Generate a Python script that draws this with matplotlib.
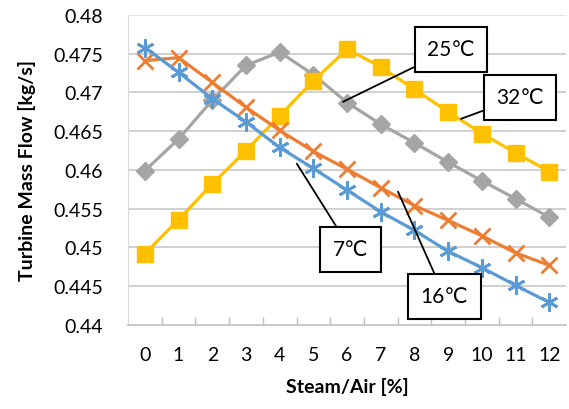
import matplotlib
matplotlib.use("Agg")
import matplotlib.pyplot as plt
from matplotlib.ticker import FixedLocator

plt.rcParams['font.family'] = ['Lato', 'DejaVu Sans']

steam_air = list(range(13))
flow_7c = [0.4758, 0.4726, 0.4692, 0.4662, 0.4629, 0.4602, 0.4574, 0.4546,
           0.4522, 0.4495, 0.4474, 0.4451, 0.4429]
flow_16c = [0.4741, 0.4745, 0.4713, 0.4681, 0.4651, 0.4624, 0.4601, 0.4577,
            0.4554, 0.4535, 0.4515, 0.4493, 0.4477]
flow_25c = [0.4599, 0.4640, 0.4690, 0.4735, 0.4752, 0.4723, 0.4687, 0.4659,
            0.4635, 0.4610, 0.4586, 0.4563, 0.4539]
flow_32c = [0.4492, 0.4536, 0.4582, 0.4625, 0.4670, 0.4715, 0.4756, 0.4733,
            0.4704, 0.4675, 0.4647, 0.4622, 0.4598]
y_ticks = [0.44, 0.445, 0.45, 0.455, 0.46, 0.465, 0.47, 0.475, 0.48]
y_tick_labels = ['0.44', '0.445', '0.45', '0.455', '0.46', '0.465', '0.47', '0.475', '0.48']

fig = plt.figure(figsize=(5.69, 4.10), dpi=100)
ax = fig.add_axes([0.225, 0.205, 0.77, 0.756])

for y in y_ticks[1:]:
    ax.axhline(y, color='#c8c8c8' if y < 0.48 else '#e2e2e2', lw=1.2, zorder=0)

ax.plot(steam_air, flow_25c, color='#a5a5a5', lw=2.3, marker='D', ms=9,
        mfc='#a5a5a5', mec='#a5a5a5', zorder=3)
ax.plot(steam_air, flow_32c, color='#ffc000', lw=2.3, marker='s', ms=12,
        mfc='#ffc000', mec='#ffc000', zorder=3)
ax.plot(steam_air, flow_16c, color='#ed7d31', lw=2.3, marker='x', ms=12,
        mew=2.0, zorder=4)
ax.plot(steam_air, flow_7c, color='#5b9bd5', lw=2.3, marker=(6, 2, 0), ms=13,
        mew=2.0, mec='#5b9bd5', zorder=5)

ax.set_xlim(-0.5, 12.5)
ax.set_ylim(0.44, 0.48)
ax.xaxis.set_major_locator(FixedLocator(steam_air))
ax.xaxis.set_minor_locator(FixedLocator([i + 0.5 for i in steam_air[:-1]]))
ax.tick_params(axis='x', which='major', length=0, pad=15, labelsize=14)
ax.tick_params(axis='x', which='minor', direction='in', length=6, color='#bfbfbf', width=1)
ax.set_yticks(y_ticks)
ax.set_yticklabels(y_tick_labels)
ax.tick_params(axis='y', length=0, pad=18, labelsize=14)

for side in ['top', 'right']:
    ax.spines[side].set_visible(False)
ax.spines['left'].set_color('#d9d9d9')
ax.spines['bottom'].set_color('#bfbfbf')
ax.spines['bottom'].set_linewidth(1.2)

ax.set_xlabel('Steam/Air [%]', fontsize=14, fontweight='bold', labelpad=10)
ax.set_ylabel('Turbine Mass Flow [kg/s]', fontsize=14, fontweight='bold', labelpad=12)

box = dict(boxstyle='square,pad=0.6', fc='white', ec='black', lw=1.5)
arrow = dict(arrowstyle='-', color='black', lw=1.3, shrinkA=0, shrinkB=0)
labels = [
    ('25\u2103', (5.88, 0.4688), (9.08, 0.4756)),
    ('32\u2103', (9.38, 0.4666), (11.13, 0.4694)),
    ('7\u2103', (4.51, 0.4608), (6.10, 0.4498)),
    ('16\u2103', (7.51, 0.4572), (8.89, 0.4437)),
]
for text, xy, xytext in labels:
    ax.annotate(text, xy=xy, xytext=xytext, ha='center', va='center',
                fontsize=15, bbox=box, arrowprops=arrow, zorder=6)

fig.savefig('out.png', dpi=100)
